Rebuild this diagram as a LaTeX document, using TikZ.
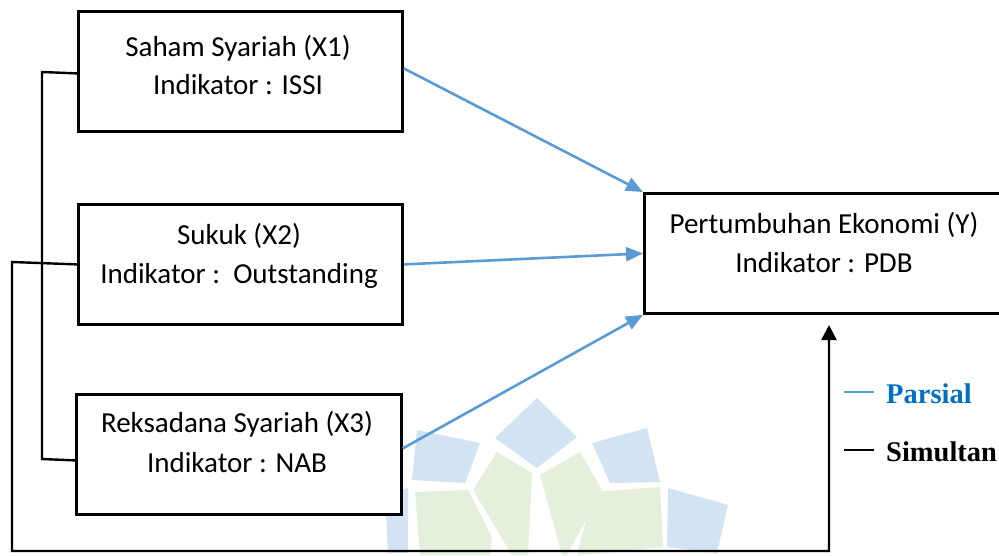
\documentclass[tikz,border=0pt]{standalone}
\usepackage{fontspec}
\setmainfont{Carlito}
\newfontfamily\legendfont{Liberation Serif}
\usetikzlibrary{arrows.meta}
\definecolor{arrowblue}{HTML}{5B9BD5}
\definecolor{legendblue}{HTML}{0070C0}
\definecolor{wmblue}{RGB}{210,227,243}
\definecolor{wmgreen}{RGB}{229,240,220}
\begin{document}
\begin{tikzpicture}[x=1pt,y=-1pt,
  box/.style={draw=black,line width=2.8pt,fill=white,inner sep=0pt,anchor=north west},
  boxtext/.style={font=\fontsize{29}{35}\selectfont,anchor=base,inner sep=0pt},
  partial/.style={draw=arrowblue,line width=2.6pt,-{Triangle[length=17pt,width=14pt]}},
  simul/.style={draw=black,line width=2.4pt},
  legendtext/.style={font=\legendfont\bfseries\fontsize{28.5}{30}\selectfont,anchor=base west,inner sep=0pt},
  wmb/.style={fill=wmblue,draw=none},
  wmg/.style={fill=wmgreen,draw=none}]
\clip (0,0) rectangle (999,555);
\useasboundingbox (0,0) rectangle (999,555);
% watermark
\fill[wmb] (417,430) -- (480,443) -- (465,483) -- (412,480) -- cycle;
\fill[wmb] (537,398) -- (577,437) -- (537,468) -- (495,438) -- cycle;
\fill[wmb] (592,443) -- (647,428) -- (660,482) -- (610,483) -- cycle;
\fill[wmb] (668,488) -- (728,505) -- (717,553) -- (667,547) -- cycle;
\fill[wmb] (385,495) -- (408,488) -- (408,553) -- (388,553) -- cycle;
\fill[wmg] (415,492) -- (468,490) -- (492,537) -- (490,555) -- (420,555) -- cycle;
\fill[wmg] (497,452) -- (532,473) -- (528,555) -- (512,555) -- (473,490) -- cycle;
\fill[wmg] (540,475) -- (580,452) -- (602,490) -- (567,555) -- (562,555) -- cycle;
\fill[wmg] (593,492) -- (660,487) -- (663,547) -- (577,555) -- cycle;
% boxes
\node[box,minimum width=324pt,minimum height=120pt] (x1) at (77,10) {};
\node[box,minimum width=324pt,minimum height=120pt] (x2) at (77,203) {};
\node[box,minimum width=325pt,minimum height=120pt] (x3) at (75,393) {};
\node[box,minimum width=365pt,minimum height=120pt] (y) at (643,192) {};
% texts
\node[boxtext] (x1a) at (238,56) {Saham Syariah (X1)};
\node[boxtext] (x1b) at (238,94) {Indikator : ISSI};
\node[boxtext] (x2a) at (239,244) {Sukuk (X2)};
\node[boxtext] (x2b) at (239,283) {Indikator :\ \ Outstanding};
\node[boxtext] (x3a) at (237,432) {Reksadana Syariah (X3)};
\node[boxtext] (x3b) at (237,472) {Indikator : NAB};
\node[boxtext] (ya) at (824,233) {Pertumbuhan Ekonomi (Y)};
\node[boxtext] (yb) at (824,272) {Indikator : PDB};
% partial arrows
\draw[partial] ([yshift=3pt]x1.east) -- (y.north west);
\draw[partial] (x2.east) -- (y.west);
\draw[partial] ([yshift=6pt]x3.east) -- (y.south west);
% bracket
\coordinate (b1) at (42,72);
\coordinate (b2) at (42,459);
\draw[simul] ([yshift=-2pt]x1.west) -- (b1) -- (b2) -- ([yshift=-6pt]x3.west);
% simultaneous
\coordinate (s1) at (12,262);
\coordinate (s2) at (12,551);
\coordinate (s3) at (829,551);
\coordinate (s4) at (829,325);
\draw[simul,-{Triangle[length=15pt,width=15pt]}] (x2.west) -- (s1) -- (s2) -- (s3) -- (s4);
% legend
\coordinate (la) at (844,392);
\coordinate (lb) at (874,392);
\coordinate (lc) at (844,450);
\coordinate (ld) at (874,450);
\draw[draw=arrowblue,line width=2.6pt] (la) -- (lb);
\draw[simul] (lc) -- (ld);
\node[legendtext,text=legendblue] (lp) at (886,403) {Parsial};
\node[legendtext,text=black] (ls) at (886,461) {Simultan};
\end{tikzpicture}
\end{document}
